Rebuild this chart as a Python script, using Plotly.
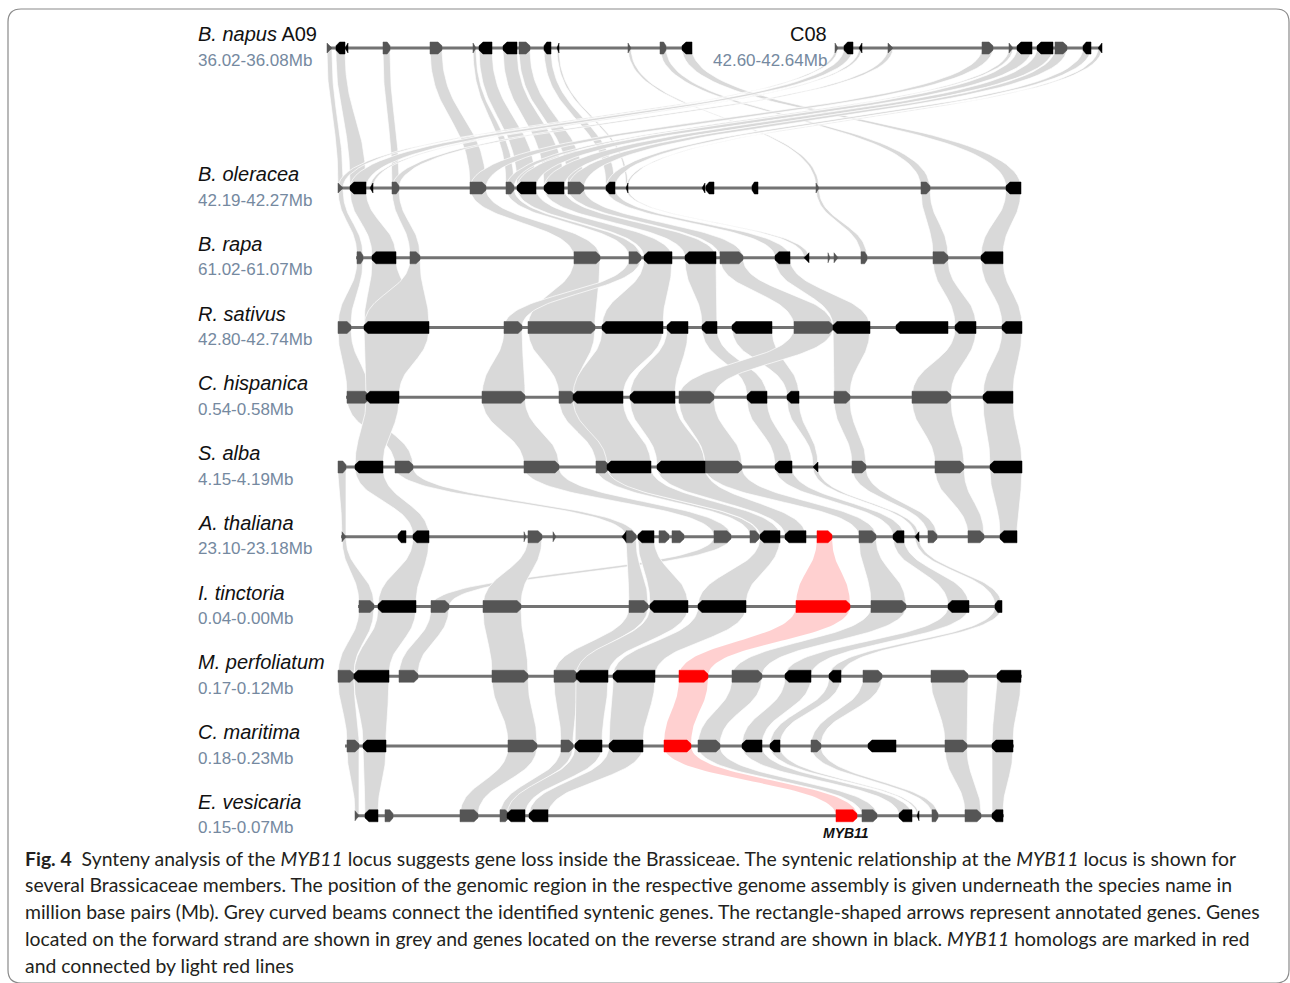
import numpy as np
import plotly.graph_objects as go

# ---------------------------------------------------------------- data
species = ["B. napus", "B. oleracea", "B. rapa", "R. sativus", "C. hispanica", "S. alba",
           "A. thaliana", "I. tinctoria", "M. perfoliatum", "C. maritima", "E. vesicaria"]
regions = ["36.02-36.08Mb", "42.19-42.27Mb", "61.02-61.07Mb", "42.80-42.74Mb", "0.54-0.58Mb",
           "4.15-4.19Mb", "23.10-23.18Mb", "0.04-0.00Mb", "0.17-0.12Mb", "0.18-0.23Mb", "0.15-0.07Mb"]
c08_region = "42.60-42.64Mb"

# locus extent on the common position axis (start, end)
extent_A09 = (327, 692)
extent_C08 = (835, 1102)
extent_Bol = (338, 1021)
extent_Bra = (356, 1003)
extent_Rsa = (338, 1022)
extent_Chi = (346, 1013)
extent_Sal = (338, 1022)
extent_Ath = (341, 1017)
extent_Iti = (358, 1002)
extent_Mpe = (338, 1022)
extent_Cma = (345, 1014)
extent_Eve = (355, 1004)

# genes: (start, end, strand)
genes_A09 = [(327, 332, "+"), (336, 345, "-"), (345, 348, "-"), (383, 390, "+"), (430, 442, "+"),
             (473, 476, "+"), (479, 492, "-"), (503, 517, "-"), (519, 530, "+"), (544, 551, "-"),
             (557, 559, "-"), (628, 631, "+"), (660, 666, "+"), (682, 692, "-")]
genes_C08 = [(835, 838, "+"), (844, 853, "-"), (859, 862, "-"), (888, 893, "+"), (982, 993, "+"),
             (1009, 1013, "+"), (1017, 1032, "-"), (1037, 1053, "-"), (1055, 1067, "+"),
             (1083, 1091, "-"), (1098, 1102, "-")]
genes_Bol = [(338, 343, "+"), (350, 366, "-"), (370, 373, "-"), (392, 399, "+"), (470, 486, "+"),
             (506, 514, "+"), (517, 536, "-"), (544, 564, "-"), (568, 584, "+"), (606, 615, "-"),
             (626, 628, "-"), (702, 705, "-"), (706, 714, "-"), (752, 758, "-"), (816, 819, "+"),
             (921, 930, "+"), (1006, 1021, "-")]
genes_Bra = [(357, 363, "+"), (372, 396, "-"), (410, 420, "+"), (574, 600, "+"), (629, 641, "+"),
             (644, 672, "-"), (685, 716, "-"), (720, 743, "+"), (775, 790, "-"), (804, 809, "-"),
             (828, 830, "+"), (834, 838, "+"), (861, 867, "+"), (933, 948, "+"), (981, 1003, "-")]
genes_Rsa = [(338, 351, "+"), (364, 429, "-"), (504, 522, "+"), (528, 595, "+"), (602, 663, "-"),
             (667, 688, "-"), (702, 717, "-"), (732, 772, "-"), (794, 833, "+"), (833, 870, "-"),
             (896, 948, "-"), (955, 976, "-"), (1002, 1022, "-")]
genes_Chi = [(347, 369, "+"), (366, 399, "-"), (482, 525, "+"), (559, 575, "+"), (573, 623, "-"),
             (630, 675, "-"), (679, 714, "+"), (747, 767, "-"), (787, 799, "-"), (834, 850, "+"),
             (912, 951, "+"), (983, 1013, "-")]
genes_Sal = [(338, 346, "+"), (355, 383, "-"), (395, 413, "+"), (524, 559, "+"), (596, 609, "+"),
             (607, 651, "-"), (657, 705, "-"), (705, 742, "+"), (775, 792, "-"), (813, 818, "-"),
             (852, 866, "+"), (935, 964, "+"), (990, 1022, "-")]
genes_Ath = [(342, 346, "+"), (398, 406, "-"), (413, 429, "-"), (524, 526, "+"), (528, 542, "+"),
             (553, 556, "+"), (622, 626, "-"), (626, 636, "+"), (638, 654, "-"), (659, 669, "+"),
             (672, 684, "+"), (714, 731, "+"), (750, 759, "+"), (760, 780, "-"), (785, 806, "-"),
             (817, 832, "+"), (859, 876, "+"), (893, 904, "-"), (915, 919, "-"), (928, 937, "+"),
             (968, 984, "+"), (1000, 1017, "-")]
genes_Iti = [(359, 374, "+"), (378, 416, "-"), (431, 449, "+"), (483, 521, "+"), (629, 648, "+"),
             (650, 688, "-"), (698, 746, "-"), (796, 850, "+"), (871, 906, "+"), (948, 969, "-"),
             (995, 1002, "-")]
genes_Mpe = [(338, 354, "+"), (354, 389, "-"), (399, 418, "+"), (492, 528, "+"), (554, 578, "+"),
             (576, 608, "-"), (613, 655, "-"), (679, 708, "+"), (732, 762, "+"), (785, 811, "-"),
             (829, 841, "-"), (863, 882, "+"), (931, 968, "+"), (997, 1021, "-")]
genes_Cma = [(347, 359, "+"), (363, 386, "-"), (508, 537, "+"), (561, 573, "+"), (575, 602, "-"),
             (609, 643, "-"), (664, 691, "+"), (698, 720, "+"), (742, 762, "-"), (770, 780, "-"),
             (811, 821, "+"), (868, 896, "-"), (945, 967, "+"), (992, 1013, "-")]
genes_Eve = [(355, 359, "+"), (365, 378, "-"), (385, 393, "+"), (460, 478, "+"), (500, 509, "+"),
             (507, 525, "-"), (529, 548, "-"), (836, 857, "+"), (862, 877, "+"), (899, 912, "-"),
             (917, 919, "-"), (932, 938, "+"), (965, 981, "+"), (992, 1003, "-")]

# MYB11 homologs (gene start per locus)
myb11 = {"Ath": 817, "Iti": 796, "Mpe": 679, "Cma": 664, "Eve": 836}

# syntenic pairs: (gene start in upper locus, gene start in lower locus)
links_A09_Bol = [(327, 338), (336, 350), (383, 392), (430, 470), (473, 506), (479, 517), (503, 544),
                 (519, 568), (544, 606), (557, 626), (628, 816), (660, 921), (682, 1006)]
links_C08_Bol = [(835, 338), (844, 350), (859, 370), (888, 392), (982, 470), (1009, 506),
                 (1017, 517), (1037, 544), (1055, 568), (1083, 606), (1098, 626)]
links_Bol_Bra = [(338, 357), (350, 372), (392, 410), (470, 574), (506, 629), (517, 644), (544, 685),
                 (568, 720), (606, 775), (626, 804), (816, 861), (921, 933), (1006, 981)]
links_Bra_Rsa = [(357, 338), (372, 364), (410, 364), (574, 528), (629, 504), (644, 602), (685, 702),
                 (720, 794), (775, 833), (933, 955), (981, 1002)]
links_Rsa_Chi = [(338, 347), (364, 366), (504, 482), (528, 559), (602, 573), (667, 630), (702, 747),
                 (732, 787), (794, 679), (833, 834), (955, 912), (1002, 983)]
links_Chi_Sal = [(347, 395), (366, 355), (482, 524), (559, 596), (573, 607), (630, 657), (679, 705),
                 (747, 775), (787, 813), (834, 852), (912, 935), (983, 990)]
links_Sal_Ath = [(338, 342), (355, 413), (395, 626), (524, 714), (596, 750), (607, 760), (657, 785),
                 (705, 859), (775, 893), (813, 915), (852, 928), (935, 968), (990, 1000)]
links_Ath_Iti = [(342, 359), (413, 378), (714, 431), (528, 483), (626, 629), (638, 650), (760, 698),
                 (859, 871), (893, 948), (915, 995), (817, 796)]
links_Iti_Mpe = [(359, 338), (378, 354), (431, 399), (483, 492), (629, 554), (650, 576), (698, 613),
                 (796, 679), (871, 732), (948, 785), (995, 829)]
links_Mpe_Cma = [(338, 347), (354, 363), (492, 508), (554, 561), (576, 575), (613, 609), (679, 664),
                 (732, 698), (785, 742), (829, 770), (863, 811), (931, 945), (997, 992)]
links_Cma_Eve = [(347, 355), (363, 365), (508, 460), (561, 500), (575, 507), (609, 529), (664, 836),
                 (698, 862), (742, 899), (770, 917), (811, 932), (945, 965), (992, 992)]

# ---------------------------------------------------------------- layout helpers
ROW_TOP = 48.0          # B. napus row
ROW0 = 188.0            # first single-locus row
ROW_STEP = 69.75
GENE_HALF = 6.0

row_y = {"A09": ROW_TOP, "C08": ROW_TOP}
keys = ["Bol", "Bra", "Rsa", "Chi", "Sal", "Ath", "Iti", "Mpe", "Cma", "Eve"]
for i, k in enumerate(keys):
    row_y[k] = ROW0 + i * ROW_STEP

genes = {"A09": genes_A09, "C08": genes_C08, "Bol": genes_Bol, "Bra": genes_Bra, "Rsa": genes_Rsa,
         "Chi": genes_Chi, "Sal": genes_Sal, "Ath": genes_Ath, "Iti": genes_Iti, "Mpe": genes_Mpe,
         "Cma": genes_Cma, "Eve": genes_Eve}
extents = {"A09": extent_A09, "C08": extent_C08, "Bol": extent_Bol, "Bra": extent_Bra,
           "Rsa": extent_Rsa, "Chi": extent_Chi, "Sal": extent_Sal, "Ath": extent_Ath,
           "Iti": extent_Iti, "Mpe": extent_Mpe, "Cma": extent_Cma, "Eve": extent_Eve}
link_sets = [("A09", "Bol", links_A09_Bol), ("C08", "Bol", links_C08_Bol),
             ("Bol", "Bra", links_Bol_Bra), ("Bra", "Rsa", links_Bra_Rsa),
             ("Rsa", "Chi", links_Rsa_Chi), ("Chi", "Sal", links_Chi_Sal),
             ("Sal", "Ath", links_Sal_Ath), ("Ath", "Iti", links_Ath_Iti),
             ("Iti", "Mpe", links_Iti_Mpe), ("Mpe", "Cma", links_Mpe_Cma),
             ("Cma", "Eve", links_Cma_Eve)]

GREY_BEAM = "#d9d9d9"
RED_BEAM = "rgba(255,40,40,0.22)"
FWD = "#555555"
REV = "#000000"
RED = "#ff0000"
TRACK = "#737373"


def gene_span(locus, start):
    for s, e, strand in genes[locus]:
        if s == start:
            return s, e, strand
    raise KeyError((locus, start))


def bez(x0, y0, x1, y1, n=48):
    t = np.linspace(0.0, 1.0, n)
    ym = (y0 + y1) / 2.0
    xs = (1 - t) ** 3 * x0 + 3 * (1 - t) ** 2 * t * x0 + 3 * (1 - t) * t ** 2 * x1 + t ** 3 * x1
    ys = (1 - t) ** 3 * y0 + 3 * (1 - t) ** 2 * t * ym + 3 * (1 - t) * t ** 2 * ym + t ** 3 * y1
    return xs, ys


def beam(a1, a2, ya, b1, b2, yb):
    rx, ry = bez(a2, ya, b2, yb)
    lx, ly = bez(b1, yb, a1, ya)
    xs = np.concatenate([[a1], rx, lx])
    ys = np.concatenate([[ya], ry, ly])
    return xs, ys


def arrow(s, e, y, strand):
    L = e - s
    h = GENE_HALF
    if L <= 5:
        hh = 5.0
        if strand == "+":
            return [s, e, s, s], [y - hh, y, y + hh, y - hh]
        return [e, s, e, e], [y - hh, y, y + hh, y - hh]
    tip = min(4.0, L * 0.4)
    th = 2.2
    if strand == "+":
        xs = [s, e - tip, e, e, e - tip, s, s]
    else:
        xs = [e, s + tip, s, s, s + tip, e, e]
    ys = [y - h, y - h, y - th, y + th, y + h, y + h, y - h]
    return xs, ys


fig = go.Figure()

# grey syntenic beams first, red MYB11 beams on top of them
red_beams = []
for up, lo, pairs in link_sets:
    for sa, sb in pairs:
        a1, a2, _ = gene_span(up, sa)
        b1, b2, _ = gene_span(lo, sb)
        xs, ys = beam(a1, a2, row_y[up], b1, b2, row_y[lo])
        if myb11.get(up) == sa and myb11.get(lo) == sb:
            red_beams.append((xs, ys))
            continue
        fig.add_trace(go.Scatter(x=xs, y=ys, mode="lines", fill="toself", fillcolor=GREY_BEAM,
                                 line=dict(color="white", width=0.7), hoverinfo="skip",
                                 showlegend=False))
for xs, ys in red_beams:
    fig.add_trace(go.Scatter(x=xs, y=ys, mode="lines", fill="toself", fillcolor=RED_BEAM,
                             line=dict(width=0), hoverinfo="skip", showlegend=False))

# locus backbones
for k, (s, e) in extents.items():
    fig.add_trace(go.Scatter(x=[s, e], y=[row_y[k], row_y[k]], mode="lines",
                             line=dict(color=TRACK, width=2.8), hoverinfo="skip",
                             showlegend=False))

# gene arrows, grouped by colour
groups = {FWD: ([], []), REV: ([], []), RED: ([], [])}
for k, gl in genes.items():
    for s, e, strand in gl:
        colour = RED if myb11.get(k) == s else (FWD if strand == "+" else REV)
        xs, ys = arrow(s, e, row_y[k], strand)
        groups[colour][0].extend(list(xs) + [None])
        groups[colour][1].extend(list(ys) + [None])
for colour, (xs, ys) in groups.items():
    fig.add_trace(go.Scatter(x=xs, y=ys, mode="lines", fill="toself", fillcolor=colour,
                             line=dict(color=colour, width=0.5), hoverinfo="skip",
                             showlegend=False))

# ---------------------------------------------------------------- text
ann = []
LABEL_FONT = "Liberation Sans, Arial, sans-serif"
REGION_COLOUR = "#7589a0"
label_rows = ["A09"] + keys
for i, k in enumerate(label_rows):
    name = "<i>%s</i>" % species[i]
    if k == "A09":
        name += " A09"
    ann.append(dict(x=196, y=row_y[k] - 14, text=name, xanchor="left", yanchor="middle",
                    showarrow=False, font=dict(family=LABEL_FONT, size=20, color="#111111")))
    ann.append(dict(x=196, y=row_y[k] + 12, text=regions[i], xanchor="left", yanchor="middle",
                    showarrow=False, font=dict(family=LABEL_FONT, size=17, color=REGION_COLOUR)))
ann.append(dict(x=829, y=row_y["C08"] - 14, text="C08", xanchor="right", yanchor="middle",
                showarrow=False, font=dict(family=LABEL_FONT, size=20, color="#111111")))
ann.append(dict(x=829, y=row_y["C08"] + 12, text=c08_region, xanchor="right", yanchor="middle",
                showarrow=False, font=dict(family=LABEL_FONT, size=17, color=REGION_COLOUR)))
ann.append(dict(x=(myb11["Eve"] + 857) / 2 - 1, y=row_y["Eve"] + 17, text="<b><i>MYB11</i></b>",
                xanchor="center", yanchor="middle", showarrow=False,
                font=dict(family=LABEL_FONT, size=14, color="#111111")))

caption = [
    "<b>Fig. 4</b>  Synteny analysis of the <i>MYB11</i> locus suggests gene loss inside the Brassiceae. "
    "The syntenic relationship at the <i>MYB11</i> locus is shown for",
    "several Brassicaceae members. The position of the genomic region in the respective genome "
    "assembly is given underneath the species name in",
    "million base pairs (Mb). Grey curved beams connect the identified syntenic genes. The "
    "rectangle-shaped arrows represent annotated genes. Genes",
    "located on the forward strand are shown in grey and genes located on the reverse strand are "
    "shown in black. <i>MYB11</i> homologs are marked in red",
    "and connected by light red lines",
]
for i, line in enumerate(caption):
    ann.append(dict(x=23, y=858 + i * 26.8, text=line, xanchor="left", yanchor="middle",
                    showarrow=False, font=dict(family="Lato, sans-serif", size=19.4, color="#231f20")))

frame = dict(type="path", xref="x", yref="y",
             path="M 8 22 Q 8 9 21 9 L 1276 9 Q 1289 9 1289 22 L 1289 970 Q 1289 983 1276 983 "
                  "L 21 983 Q 8 983 8 970 Z",
             line=dict(color="#8a8a8a", width=1.2), fillcolor="rgba(0,0,0,0)", layer="below")

fig.update_layout(width=1290, height=983, autosize=False,
                  margin=dict(l=0, r=0, t=0, b=0),
                  paper_bgcolor="white", plot_bgcolor="white",
                  xaxis=dict(range=[0, 1290], visible=False, fixedrange=True),
                  yaxis=dict(range=[983, 0], visible=False, fixedrange=True),
                  annotations=ann, shapes=[frame], showlegend=False)

fig.write_html("out.html")
